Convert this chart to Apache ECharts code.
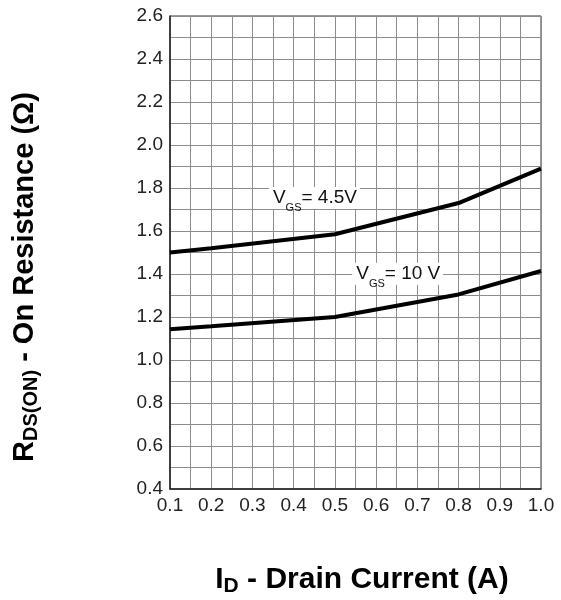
<!DOCTYPE html>
<html>
<head>
<meta charset="utf-8">
<script src="https://cdn.jsdelivr.net/npm/echarts@6/dist/echarts.min.js"></script>
<style>html,body{margin:0;padding:0;background:#fff}#c{width:561px;height:600px}</style>
</head>
<body>
<div id="c"></div>
<script>
// Data
var current = [0.1, 0.2, 0.5, 0.8, 1.0];
var rdsVgs45 = [1.50, 1.52, 1.585, 1.73, 1.89];
var rdsVgs10 = [1.143, 1.157, 1.20, 1.305, 1.414];
var xTicks = [0.1, 0.2, 0.3, 0.4, 0.5, 0.6, 0.7, 0.8, 0.9, 1.0];
var yTicks = [0.4, 0.6, 0.8, 1.0, 1.2, 1.4, 1.6, 1.8, 2.0, 2.2, 2.4, 2.6];

var FONT = '"Liberation Sans", Arial, sans-serif';
function pairs(xs, ys) { return xs.map(function (x, i) { return [x, ys[i]]; }); }

var gridColor = '#8c8c8c';
var labelRich = {
  m: { fontSize: 19, fontFamily: FONT, color: '#111', lineHeight: 22 },
  s: { fontSize: 11, fontFamily: FONT, color: '#111', lineHeight: 12, padding: [20, 0, 0, 0] }
};

var chart = echarts.init(document.getElementById('c'), null, { renderer: 'canvas' });
chart.setOption({
  animation: false,
  backgroundColor: '#fff',
  grid: { left: 170, top: 16, width: 371, height: 473, show: true, borderColor: '#333', borderWidth: 1, backgroundColor: 'transparent' },
  xAxis: {
    type: 'value', min: xTicks[0], max: xTicks[xTicks.length - 1], interval: 0.1,
    axisLine: { show: true, lineStyle: { color: '#222', width: 1.5 } },
    axisTick: { show: false },
    minorTick: { show: false, splitNumber: 2 },
    splitLine: { show: true, lineStyle: { color: gridColor, width: 1 } },
    minorSplitLine: { show: true, lineStyle: { color: gridColor, width: 1 } },
    axisLabel: { fontSize: 19, fontFamily: FONT, color: '#222', margin: 7, showMinLabel: true, showMaxLabel: true,
      formatter: function (v) { return v.toFixed(1); } }
  },
  yAxis: {
    type: 'value', min: yTicks[0], max: yTicks[yTicks.length - 1], interval: 0.2,
    axisLine: { show: true, lineStyle: { color: '#222', width: 1.5 } },
    axisTick: { show: false },
    minorTick: { show: false, splitNumber: 2 },
    splitLine: { show: true, lineStyle: { color: gridColor, width: 1 } },
    minorSplitLine: { show: true, lineStyle: { color: gridColor, width: 1 } },
    axisLabel: { fontSize: 19, fontFamily: FONT, color: '#222', margin: 7, showMinLabel: true, showMaxLabel: true,
      formatter: function (v) { return v.toFixed(1); } }
  },
  series: [
    {
      name: 'VGS=4.5V', type: 'line', data: pairs(current, rdsVgs45), symbol: 'none', smooth: false,
      lineStyle: { color: '#000', width: 4 }, z: 3,
      markPoint: {
        symbol: 'circle', symbolSize: 0, silent: true,
        data: [{ coord: [0.34, 1.754] }],
        label: { show: true, position: 'right', distance: 0, backgroundColor: '#fff', padding: [0, 3, 0, 4],
          formatter: '{m|V}{s|GS}{m|= 4.5V}', rich: labelRich }
      }
    },
    {
      name: 'VGS=10V', type: 'line', data: pairs(current, rdsVgs10), symbol: 'none', smooth: false,
      lineStyle: { color: '#000', width: 4 }, z: 3,
      markPoint: {
        symbol: 'circle', symbolSize: 0, silent: true,
        data: [{ coord: [0.542, 1.401] }],
        label: { show: true, position: 'right', distance: 0, backgroundColor: '#fff', padding: [0, 3, 0, 4],
          formatter: '{m|V}{s|GS}{m|= 10 V}', rich: labelRich }
      }
    }
  ],
  graphic: [
    {
      type: 'text', x: 362, y: 580,
      style: {
        text: '{m|I}{s|D}{m| - Drain Current (A)}',
        align: 'center', verticalAlign: 'middle',
        rich: {
          m: { fontSize: 30, fontWeight: 'bold', fontFamily: FONT, fill: '#000', lineHeight: 32 },
          s: { fontSize: 21, fontWeight: 'bold', fontFamily: FONT, fill: '#000', lineHeight: 22, padding: [13, 0, 0, 0] }
        }
      }
    },
    {
      type: 'text', x: 25, y: 277, rotation: Math.PI / 2,
      style: {
        text: '{m|R}{s|DS(ON)}{m| - On Resistance (Ω)}',
        align: 'center', verticalAlign: 'middle',
        rich: {
          m: { fontSize: 29, fontWeight: 'bold', fontFamily: FONT, fill: '#000', lineHeight: 31 },
          s: { fontSize: 20, fontWeight: 'bold', fontFamily: FONT, fill: '#000', lineHeight: 21, padding: [12, 0, 0, 0] }
        }
      }
    }
  ]
});
</script>
</body>
</html>
